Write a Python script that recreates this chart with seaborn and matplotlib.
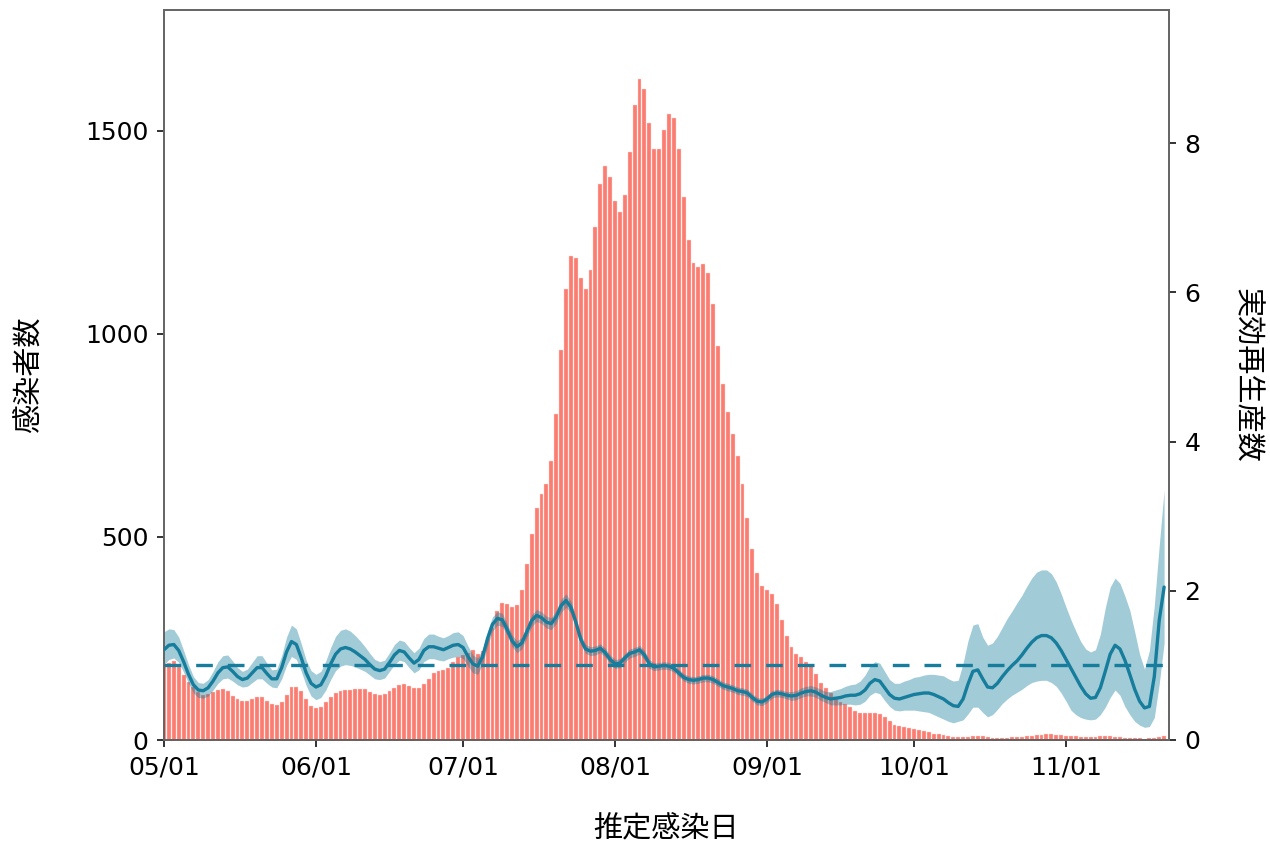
import numpy as np
import pandas as pd
import matplotlib
matplotlib.use("Agg")
import matplotlib.pyplot as plt
import seaborn as sns

sns.set_theme(style="ticks")
plt.rcParams["font.family"] = ["DejaVu Sans", "Noto Sans CJK JP"]
plt.rcParams["text.color"] = "black"
plt.rcParams["axes.labelcolor"] = "black"
plt.rcParams["xtick.labelcolor"] = "black"
plt.rcParams["ytick.labelcolor"] = "black"

# Daily estimated infections, starting 2021-05-01
start_date = "2021-05-01"
cases = [
    # May
    185, 190, 194, 181, 160, 144, 130, 119, 111, 113, 117, 123, 125, 121, 108, 100,
    96, 96, 100, 105, 105, 96, 88, 86, 94, 111, 130, 131, 121, 100, 84,
    # June
    78, 82, 93, 107, 115, 121, 122, 122, 125, 126, 126, 118, 113, 112, 113, 121,
    129, 135, 137, 133, 129, 129, 137, 151, 164, 171, 172, 177, 193, 204,
    # July
    209, 215, 222, 212, 220, 250, 275, 318, 338, 336, 328, 333, 369, 434, 508, 571,
    605, 631, 687, 803, 960, 1112, 1193, 1188, 1137, 1112, 1157, 1264, 1370, 1415, 1386,
    # August
    1328, 1300, 1343, 1448, 1564, 1628, 1603, 1520, 1456, 1456, 1502, 1543, 1532, 1455,
    1337, 1231, 1174, 1166, 1172, 1151, 1075, 971, 876, 807, 753, 700, 630, 548, 470,
    411, 379,
    # September
    369, 359, 335, 296, 257, 230, 212, 204, 193, 182, 162, 141, 127, 115, 104, 94,
    89, 82, 71, 67, 67, 67, 67, 64, 57, 48, 37, 35, 33, 30,
    # October
    27, 25, 21, 19, 16, 14, 12, 11, 8, 7, 7, 7, 11, 11, 10, 8, 6, 5, 6, 5, 7, 7, 8,
    9, 10, 12, 13, 14, 14, 13, 12,
    # November
    11, 10, 9, 8, 7, 7, 8, 9, 10, 9, 8, 7, 6, 5, 4, 5, 3, 4, 5, 7, 9,
]

# Effective reproduction number (posterior median)
rt = [
    1.21, 1.27, 1.28, 1.20, 1.05, 0.88, 0.74, 0.67, 0.66, 0.70,
    0.79, 0.90, 0.97, 0.98, 0.92, 0.85, 0.81, 0.83, 0.90, 0.97,
    0.97, 0.89, 0.82, 0.82, 0.97, 1.18, 1.32, 1.28, 1.10, 0.90,
    0.76, 0.71, 0.74, 0.86, 1.02, 1.15, 1.22, 1.24, 1.22, 1.18,
    1.13, 1.08, 1.01, 0.95, 0.93, 0.95, 1.04, 1.14, 1.20, 1.18,
    1.10, 1.03, 1.08, 1.20, 1.25, 1.25, 1.23, 1.21, 1.24, 1.27,
    1.28, 1.24, 1.12, 1.02, 0.99, 1.12, 1.36, 1.55, 1.63, 1.61,
    1.48, 1.33, 1.25, 1.30, 1.45, 1.60, 1.67, 1.64, 1.58, 1.56,
    1.65, 1.80, 1.87, 1.78, 1.58, 1.35, 1.22, 1.19, 1.20, 1.23,
    1.17, 1.08, 1.02, 1.03, 1.10, 1.16, 1.18, 1.21, 1.14, 1.02,
    0.98, 0.99, 1.00, 0.99, 0.96, 0.90, 0.84, 0.81, 0.80, 0.81,
    0.83, 0.83, 0.81, 0.77, 0.73, 0.71, 0.69, 0.66, 0.65, 0.63,
    0.57, 0.52, 0.51, 0.55, 0.61, 0.63, 0.62, 0.60, 0.59, 0.60,
    0.63, 0.65, 0.66, 0.64, 0.60, 0.57, 0.55, 0.56, 0.57, 0.59,
    0.60, 0.60, 0.62, 0.67, 0.76, 0.81, 0.79, 0.70, 0.61, 0.56,
    0.55, 0.57, 0.59, 0.61, 0.62, 0.63, 0.63, 0.61, 0.58, 0.55,
    0.50, 0.46, 0.45, 0.55, 0.75, 0.92, 0.94, 0.82, 0.71, 0.70,
    0.76, 0.85, 0.93, 1.00, 1.06, 1.14, 1.23, 1.31, 1.37, 1.40,
    1.40, 1.37, 1.30, 1.20, 1.08, 0.96, 0.84, 0.72, 0.62, 0.56,
    0.57, 0.70, 0.92, 1.15, 1.27, 1.22, 1.07, 0.88, 0.68, 0.52,
    0.43, 0.45, 0.85, 1.60, 2.05,
]

# Distance from the median down to the lower credible bound
rt_below = [
    .20, .19, .18, .16, .14, .12, .11, .10, .10, .11,
    .12, .14, .15, .15, .13, .11, .10, .11, .13, .15,
    .15, .13, .11, .12, .15, .18, .20, .20, .18, .17,
    .17, .17, .17, .19, .21, .22, .23, .23, .22, .20,
    .18, .16, .14, .13, .12, .12, .12, .13, .13, .13,
    .13, .13, .14, .15, .16, .16, .16, .15, .15, .16,
    .16, .15, .13, .12, .11, .10, .10, .09, .09, .09,
    .08, .08, .08, .08, .08, .08, .08, .08, .08, .08,
    .09, .09, .09, .08, .07, .07, .06, .06, .06, .06,
    .06, .06, .06, .06, .06, .06, .06, .06, .06, .06,
    .05, .05, .05, .05, .05, .05, .05, .05, .05, .05,
    .05, .05, .05, .05, .05, .05, .05, .05, .05, .05,
    .05, .05, .05, .05, .05, .05, .05, .05, .06, .06,
    .06, .06, .07, .07, .07, .07, .08, .09, .10, .11,
    .12, .13, .14, .15, .16, .17, .17, .17, .16, .16,
    .16, .17, .19, .21, .23, .25, .26, .27, .27, .27,
    .25, .23, .20, .28, .40, .48, .50, .45, .40, .36,
    .35, .36, .38, .40, .42, .46, .50, .54, .58, .60,
    .60, .60, .58, .57, .56, .56, .50, .42, .34, .29,
    .29, .36, .48, .58, .60, .62, .62, .54, .43, .32,
    .26, .27, .55, .85, .75,
]

# Distance from the median up to the upper credible bound
rt_above = [
    .24, .22, .20, .18, .15, .13, .11, .10, .10, .11,
    .13, .15, .16, .16, .14, .12, .11, .12, .14, .16,
    .16, .14, .12, .13, .16, .20, .22, .21, .19, .17,
    .17, .17, .18, .20, .22, .24, .25, .25, .24, .22,
    .20, .17, .15, .13, .12, .12, .13, .14, .14, .14,
    .14, .14, .15, .16, .17, .17, .16, .16, .16, .17,
    .17, .16, .14, .12, .11, .10, .10, .10, .09, .09,
    .08, .08, .08, .08, .08, .08, .08, .08, .08, .08,
    .09, .09, .09, .08, .07, .07, .06, .06, .06, .06,
    .06, .06, .06, .06, .06, .06, .06, .06, .06, .06,
    .05, .05, .05, .05, .05, .05, .05, .05, .05, .05,
    .05, .05, .05, .05, .05, .05, .05, .05, .05, .05,
    .05, .05, .05, .05, .05, .05, .05, .05, .06, .06,
    .07, .07, .07, .07, .08, .08, .10, .11, .12, .13,
    .14, .15, .17, .20, .23, .24, .24, .22, .20, .20,
    .21, .22, .22, .23, .23, .24, .25, .27, .29, .31,
    .32, .33, .35, .48, .58, .62, .62, .56, .56, .60,
    .63, .66, .70, .73, .78, .80, .83, .86, .88, .88,
    .88, .86, .82, .76, .70, .65, .62, .60, .60, .62,
    .64, .72, .85, .90, .90, .88, .86, .86, .77, .63,
    .52, .75, .95, 1.00, 1.30,
]

month_ticks = ["05/01", "06/01", "07/01", "08/01", "09/01", "10/01", "11/01"]

BAR_COLOR = "#fb7c70"
RT_COLOR = "#167d9c"

n = len(cases)
df = pd.DataFrame({
    "day": np.arange(n),
    "cases": cases,
    "rt": rt,
})
df["lower"] = df["rt"] - np.array(rt_below)
df["upper"] = df["rt"] + np.array(rt_above)

origin = pd.Timestamp(start_date)
year = origin.year
tick_pos = [(pd.Timestamp(f"{year}-{m.replace('/', '-')}") - origin).days for m in month_ticks]

fig = plt.figure(figsize=(12.7, 8.44), dpi=100)
ax = fig.add_axes([164 / 1270, 1 - 740 / 844, 1005 / 1270, 730 / 844])

sns.barplot(data=df, x="day", y="cases", native_scale=True, color=BAR_COLOR,
            saturation=1, width=0.8, edgecolor="#ffd6d2", linewidth=0.3,
            errorbar=None, ax=ax, zorder=2)

ax2 = ax.twinx()
ax2.fill_between(df["day"], df["lower"], df["upper"], color=RT_COLOR,
                 alpha=0.4, linewidth=0, zorder=1)
ax2.axhline(1.0, color=RT_COLOR, linewidth=2.4, dashes=(5, 4.5), zorder=2)
sns.lineplot(data=df, x="day", y="rt", color=RT_COLOR, linewidth=2.4,
             ax=ax2, zorder=3)

ax.set_xlim(0, n)
ax.set_ylim(0, 1798)
ax.set_yticks([0, 500, 1000, 1500])
ax.set_xticks(tick_pos)
ax.set_xticklabels(month_ticks)
ax2.set_ylim(0, 9.785)
ax2.set_yticks([0, 2, 4, 6, 8])

ax.set_xlabel("推定感染日", fontsize=21, labelpad=26)
ax.set_ylabel("感染者数", fontsize=21, labelpad=30)
ax2.set_ylabel("実効再生産数", fontsize=21, labelpad=43, rotation=270)

for a in (ax, ax2):
    a.tick_params(axis="both", labelsize=18, length=5, width=1.4,
                  color="#333333", pad=6, labelcolor="black")
    for side, sp in a.spines.items():
        sp.set_visible(True)
        sp.set_color("#666666")
        sp.set_linewidth(1.3)
ax.spines["bottom"].set_color("#444444")

fig.savefig("out.png", dpi=100)
